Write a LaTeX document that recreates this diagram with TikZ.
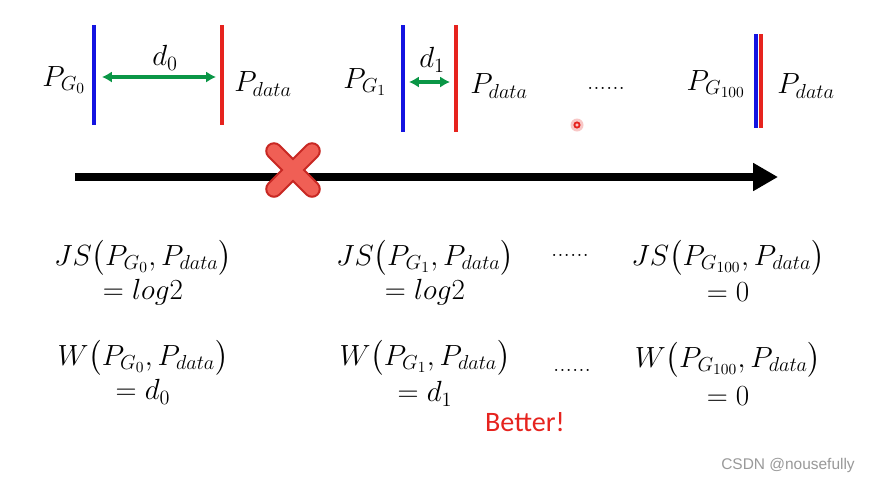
\documentclass[tikz,border=0pt]{standalone}
\usepackage{amsmath}
\usepackage{fontspec}
\newfontfamily\slidefont{Carlito}
\newfontfamily\markfont{Liberation Sans}
\usetikzlibrary{arrows.meta,positioning}

\definecolor{pblue}{RGB}{20,20,225}
\definecolor{pred}{RGB}{230,35,30}
\definecolor{pgreen}{RGB}{10,150,70}
\definecolor{xdark}{RGB}{200,40,35}
\definecolor{xlight}{RGB}{240,95,85}

\tikzset{
	lbl/.style={font=\fontsize{22}{26}\selectfont, inner sep=1pt},
	dots/.style={font=\fontsize{18}{20}\selectfont, inner sep=1pt},
	gline/.style={pblue, line width=2.2pt},
	rline/.style={pred, line width=2.2pt},
	dist/.style={pgreen, line width=2.2pt, {Latex[length=7pt,width=8pt]}-{Latex[length=7pt,width=8pt]}},
}

\begin{document}
\begin{tikzpicture}[x=0.025cm,y=-0.025cm]
	
	\fill[white] (0,0) rectangle (870,482);
	\useasboundingbox (0,0) rectangle (870,482);
	
	% Step 0
	\node[lbl] (pg0) at (64,80) {$P_{G_0}$};
	\draw[gline] (94,25) -- (94,125);
	\draw[rline] (222,25) -- (222,125);
	\coordinate (d0l) at (102,77);
	\coordinate (d0r) at (216,77);
	\draw[dist] (d0l) -- (d0r);
	\node[lbl] (d0) at (165,58) {$d_0$};
	\node[lbl] (pd0) at (263,84) {$P_{data}$};
	
	% Step 1
	\node[lbl] (pg1) at (365,82) {$P_{G_1}$};
	\draw[gline] (403,25) -- (403,132);
	\draw[rline] (456,25) -- (456,132);
	\coordinate (d1l) at (409,82);
	\coordinate (d1r) at (450,82);
	\draw[dist] (d1l) -- (d1r);
	\node[lbl] (d1) at (432,60) {$d_1$};
	\node[lbl] (pd1) at (499,86) {$P_{data}$};
	
	\node[dots] (mid) at (606,88) {......};
	
	% Step 100
	\node[lbl] (pg100) at (716,84) {$P_{G_{100}}$};
	\draw[gline] (756,34) -- (756,128);
	\draw[rline] (761,34) -- (761,128);
	\node[lbl] (pd100) at (806,86) {$P_{data}$};
	
	% pointer
	\fill[pred, opacity=0.25] (577,125) circle (6.5);
	\draw[pred, line width=1.3pt] (577,125) circle (2.6);
	
	% Axis
	\coordinate (start) at (75,177);
	\coordinate (end) at (778,177);
	\draw[black, line width=5.6pt, -{Triangle[length=0.62cm,width=0.66cm]}] (start) -- (end);
	
	% Cross
	\begin{scope}[shift={(293,170)}]
		\draw[xdark, line width=12.5pt, line cap=round] (-19,-19) -- (19,19);
		\draw[xdark, line width=12.5pt, line cap=round] (19,-19) -- (-19,19);
		\draw[xlight, line width=9.5pt, line cap=round] (-19,-19) -- (19,19);
		\draw[xlight, line width=9.5pt, line cap=round] (19,-19) -- (-19,19);
	\end{scope}
	
	% JS divergence
	\node[lbl] (js0) at (143,258) {$JS\bigl(P_{G_0},P_{data}\bigr)$};
	\node[lbl] (js0v) at (143,292) {$=log2$};
	\node[lbl] (js1) at (425,258) {$JS\bigl(P_{G_1},P_{data}\bigr)$};
	\node[lbl] (js1v) at (425,292) {$=log2$};
	\node[dots] (jsmid) at (570,255) {......};
	\node[lbl] (js100) at (728,258) {$JS\bigl(P_{G_{100}},P_{data}\bigr)$};
	\node[lbl] (js100v) at (728,292) {$=0$};
	
	% Wasserstein
	\node[lbl] (w0) at (143,358) {$W\bigl(P_{G_0},P_{data}\bigr)$};
	\node[lbl] (w0v) at (143,392) {$=d_0$};
	\node[lbl] (w1) at (425,358) {$W\bigl(P_{G_1},P_{data}\bigr)$};
	\node[lbl] (w1v) at (425,394) {$=d_1$};
	\node[dots] (wmid) at (572,370) {......};
	\node[lbl] (w100) at (728,360) {$W\bigl(P_{G_{100}},P_{data}\bigr)$};
	\node[lbl] (w100v) at (728,396) {$=0$};
	
	\node[pred, font=\slidefont\fontsize{20}{24}\selectfont] (better) at (525,422) {Better!};
	\node[black!40, font=\markfont\fontsize{11}{13}\selectfont] (mark) at (788,465) {CSDN @nousefully};
	
\end{tikzpicture}
\end{document}
